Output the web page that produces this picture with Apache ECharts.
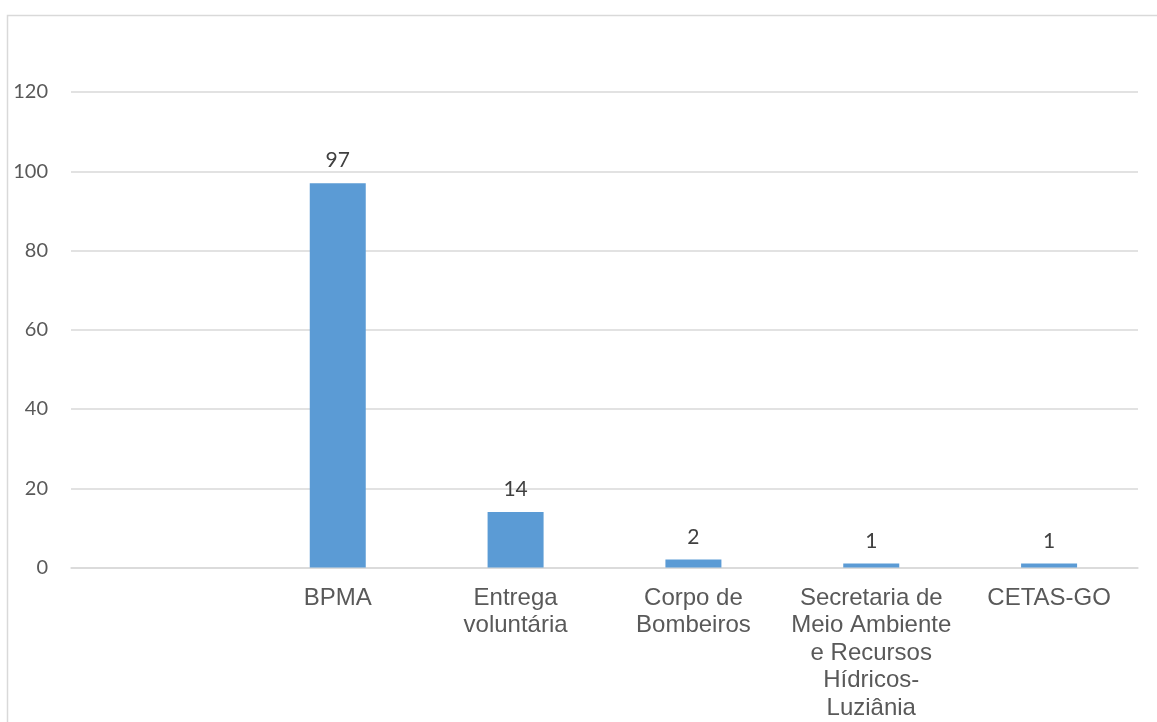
<!DOCTYPE html>
<html>
<head>
<meta charset="utf-8">
<script src="https://cdn.jsdelivr.net/npm/echarts@6/dist/echarts.min.js"></script>
<style>
  html, body { margin: 0; padding: 0; background: #fff; }
  #main { width: 1157px; height: 722px; }
</style>
</head>
<body>
<div id="main"></div>
<script>
var categories = ['', 'BPMA', 'Entrega voluntária', 'Corpo de Bombeiros', 'Secretaria de Meio Ambiente e Recursos Hídricos-Luziânia', 'CETAS-GO'];
var values = [null, 97, 14, 2, 1, 1];
var yTicks = { min: 0, max: 120, interval: 20 };

// wrap on spaces and after hyphens, like the spreadsheet does
function wrapLabel(text) {
    var tokens = text.match(/[^\s-]+-?/g) || [];
    var lines = [], cur = '';
    tokens.forEach(function (t) {
        var sep = (cur && !/-$/.test(cur)) ? ' ' : '';
        if (cur && (cur + sep + t).length > 14) {
            lines.push(cur);
            cur = t;
        } else {
            cur = cur + sep + t;
        }
    });
    if (cur) lines.push(cur);
    return lines.join('\n');
}

var myChart = echarts.init(document.getElementById('main'));

var option = {
    animation: false,
    graphic: [{
        type: 'rect',
        shape: { x: 7.5, y: 15.5, width: 1300, height: 900 },
        style: { fill: 'none', stroke: '#d9d9d9', lineWidth: 1.5 },
        silent: true
    }],
    grid: { left: 71, right: 19, top: 92, bottom: 152 },
    xAxis: {
        type: 'category',
        data: categories,
        axisTick: { show: false },
        axisLine: { lineStyle: { color: '#d9d9d9', width: 1.5 } },
        axisLabel: {
            interval: 0,
            color: '#595959',
            fontFamily: 'Liberation Sans, Arial, sans-serif',
            fontSize: 24,
            lineHeight: 27.5,
            margin: 17,
            formatter: wrapLabel
        }
    },
    yAxis: {
        type: 'value',
        min: yTicks.min,
        max: yTicks.max,
        interval: yTicks.interval,
        axisLine: { show: false },
        axisTick: { show: false },
        splitLine: { lineStyle: { color: '#d9d9d9', width: 1.5 } },
        axisLabel: {
            color: '#595959',
            fontFamily: 'Lato, sans-serif',
            fontSize: 20,
            margin: 23
        }
    },
    series: [{
        type: 'bar',
        data: values,
        barWidth: 56,
        itemStyle: { color: '#5b9bd5' },
        label: {
            show: true,
            position: 'top',
            distance: 12,
            color: '#404040',
            fontFamily: 'Lato, sans-serif',
            fontSize: 21
        }
    }]
};

myChart.setOption(option);
</script>
</body>
</html>
